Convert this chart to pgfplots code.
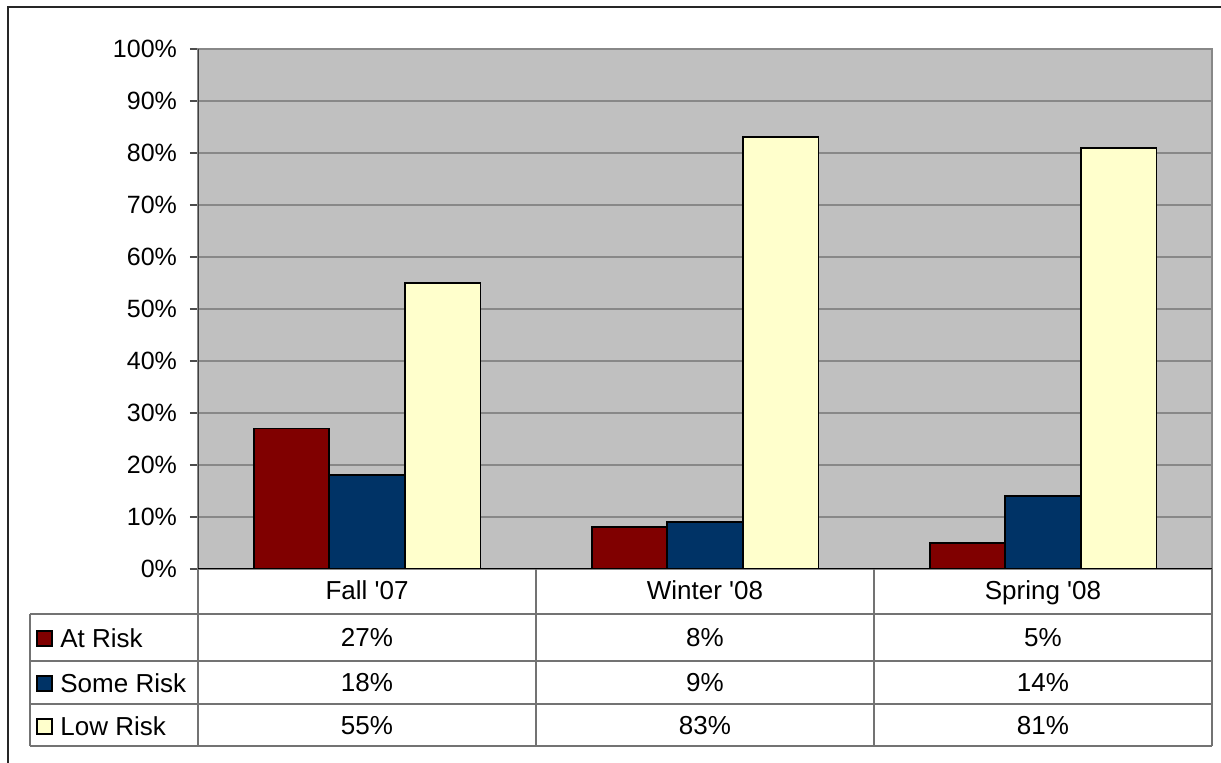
\documentclass[border=0pt]{standalone}
\usepackage{pgfplots}
\pgfplotsset{compat=1.18}
\usepackage{fontspec}
\setmainfont{Liberation Sans}[Ligatures=TeXOff]
\definecolor{atrisk}{HTML}{800000}
\definecolor{somerisk}{HTML}{003366}
\definecolor{lowrisk}{HTML}{FFFFCC}
\definecolor{plotbg}{HTML}{C0C0C0}
\definecolor{gridc}{HTML}{888888}
\begin{document}
\begin{tikzpicture}[font=\fontsize{12.5}{15}\selectfont]
\begin{scope}[x=0.5pt,y=-0.5pt]
\useasboundingbox (0,0) rectangle (1221,763);
\draw[line width=0.9pt, color=black!85] (8,763) -- (8,7) -- (1221,7);
\end{scope}
\begin{axis}[
  at={(99pt,-284.5pt)}, anchor=south west,
  scale only axis, width=507pt, height=260pt,
  xmin=-0.5, xmax=2.5, ymin=0, ymax=100,
  axis background/.style={fill=plotbg},
  axis line style={gridc, line width=0.7pt},
  ybar=0pt, bar width=37.8pt,
  xtick=\empty,
  ytick={0,10,...,100},
  yticklabels={0\%,10\%,20\%,30\%,40\%,50\%,60\%,70\%,80\%,90\%,100\%},
  yticklabel style={xshift=-3pt},
  tick pos=left, ytick align=outside,
  major tick length=4pt,
  tick style={black!70, line width=0.6pt},
  ymajorgrids, grid style={gridc, line width=0.6pt},
]
\addplot[fill=atrisk, draw=black, line width=0.9pt] coordinates {(0,27) (1,8) (2,5)};
\addplot[fill=somerisk, draw=black, line width=0.9pt] coordinates {(0,18) (1,9) (2,14)};
\addplot[fill=lowrisk, draw=black, line width=0.9pt] coordinates {(0,55) (1,83) (2,81)};
\draw[black!75, line width=0.7pt] (rel axis cs:0,0) -- (rel axis cs:0,1);
\draw[black, line width=1pt] (rel axis cs:0,0) -- (rel axis cs:1,0);
\end{axis}
\begin{scope}[x=0.5pt,y=-0.5pt, font=\fontsize{13}{15}\selectfont]
\draw[black!55, line width=0.6pt]
  (30,614) -- (1212,614)
  (30,661) -- (1212,661)
  (30,704) -- (1212,704)
  (30,746) -- (1212,746)
  (30,614) -- (30,746)
  (198,569) -- (198,746)
  (536,569) -- (536,746)
  (874,569) -- (874,746)
  (1212,569) -- (1212,746);
\node[anchor=base] at (367,600) {Fall '07};
\node[anchor=base] at (705,600) {Winter '08};
\node[anchor=base] at (1043,600) {Spring '08};
\node at (367,638) {27\%};
\node at (705,638) {8\%};
\node at (1043,638) {5\%};
\node at (367,683) {18\%};
\node at (705,683) {9\%};
\node at (1043,683) {14\%};
\node at (367,726) {55\%};
\node at (705,726) {83\%};
\node at (1043,726) {81\%};
\draw[fill=atrisk, draw=black, line width=0.7pt] (37,631) rectangle (52,646);
\draw[fill=somerisk, draw=black, line width=0.7pt] (37,676) rectangle (52,691);
\draw[fill=lowrisk, draw=black, line width=0.7pt] (37,719) rectangle (52,734);
\node[anchor=west, inner sep=0pt] at (60,638) {At Risk};
\node[anchor=west, inner sep=0pt] at (60,683) {Some Risk};
\node[anchor=west, inner sep=0pt] at (60,726) {Low Risk};
\end{scope}
\end{tikzpicture}
\end{document}
